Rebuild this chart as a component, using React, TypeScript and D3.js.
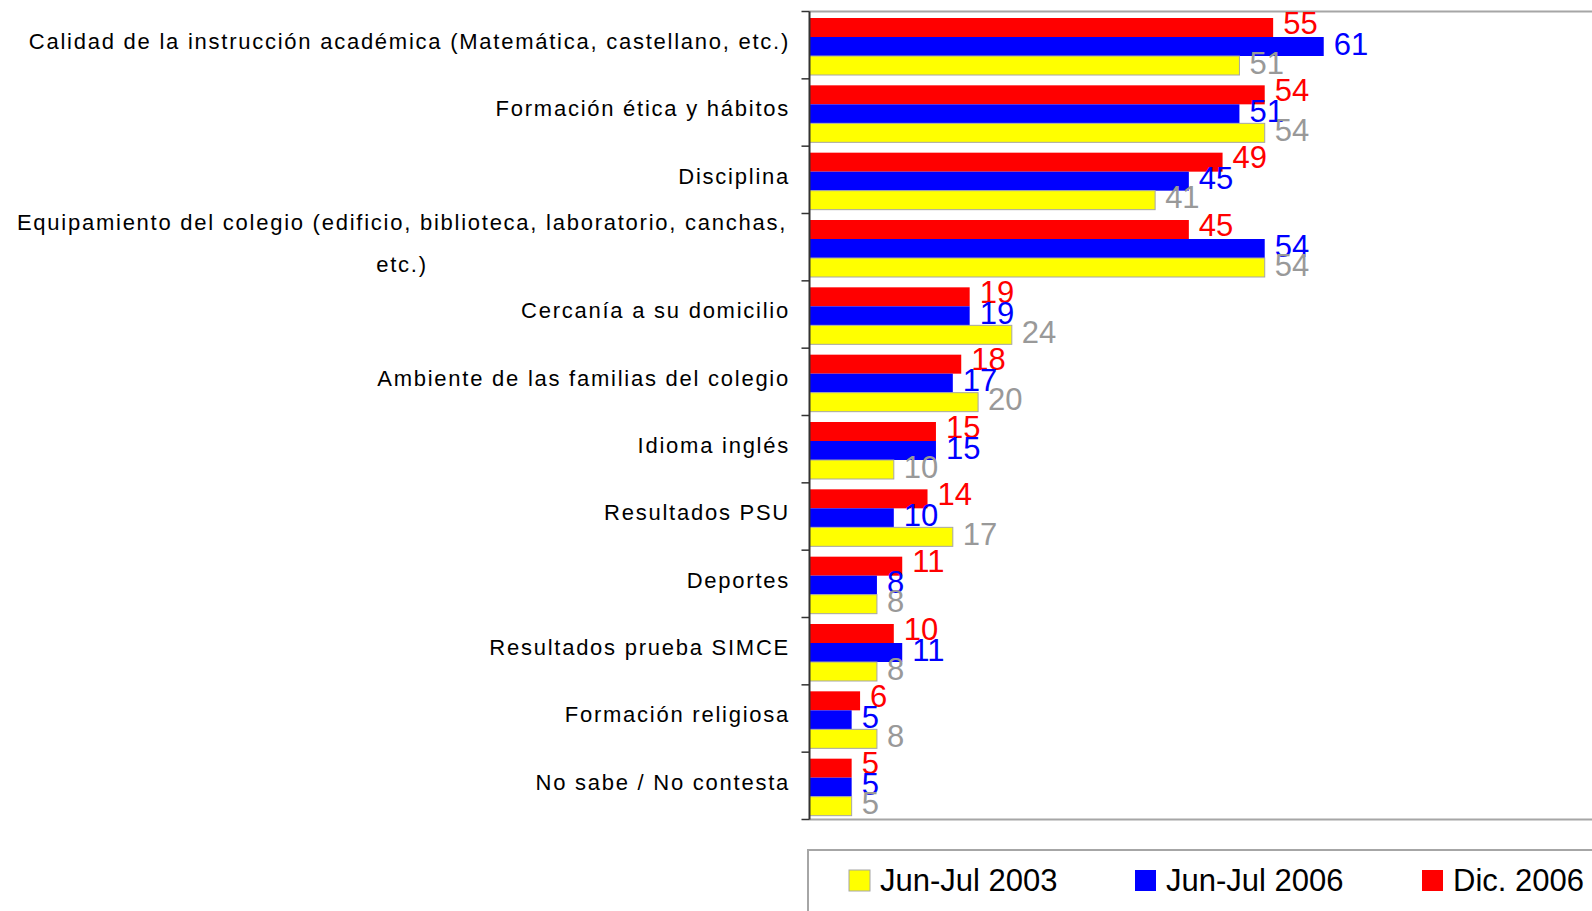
import React from 'react'
import * as d3 from 'd3'

const categories = [
  'Calidad de la instrucción académica (Matemática, castellano, etc.)',
  'Formación ética y hábitos',
  'Disciplina',
  'Equipamiento del colegio (edificio, biblioteca, laboratorio, canchas,|etc.)',
  'Cercanía a su domicilio',
  'Ambiente de las familias del colegio',
  'Idioma inglés',
  'Resultados PSU',
  'Deportes',
  'Resultados prueba SIMCE',
  'Formación religiosa',
  'No sabe / No contesta',
]

const dic2006 = [55, 54, 49, 45, 19, 18, 15, 14, 11, 10, 6, 5]
const junJul2006 = [61, 51, 45, 54, 19, 17, 15, 10, 8, 11, 5, 5]
const junJul2003 = [51, 54, 41, 54, 24, 20, 10, 17, 8, 8, 8, 5]

const seriesKeys = ['dic2006', 'jj2006', 'jj2003']
const seriesValues: Record<string, number[]> = {
  dic2006: dic2006,
  jj2006: junJul2006,
  jj2003: junJul2003,
}
const seriesFill: Record<string, string> = { dic2006: '#ff0000', jj2006: '#0000ff', jj2003: '#ffff00' }
const labelFill: Record<string, string> = { dic2006: '#ff0000', jj2006: '#0000ff', jj2003: '#999999' }

const legendItems = [
  { key: 'jj2003', label: 'Jun-Jul 2003' },
  { key: 'jj2006', label: 'Jun-Jul 2006' },
  { key: 'dic2006', label: 'Dic. 2006' },
]

const W = 1592
const H = 911
const axisX = 809.5
const plotTop = 11.5
const plotBottom = 819.5

export default function App() {
  const x = d3.scaleLinear().domain([0, 100]).range([axisX, axisX + 843])
  const y = d3.scaleBand<number>().domain(d3.range(categories.length)).range([plotTop, plotBottom])
  const inner = d3.scaleBand<string>().domain(seriesKeys).range([6.5, 63.5])

  const font = '"Liberation Sans", Arial, sans-serif'
  const legendX = [849, 1135, 1422]

  return (
    <svg width={W} height={H} style={{ position: 'absolute', left: 0, top: 0, background: '#fff' }}>
      {/* frame lines */}
      <line x1={axisX} x2={W} y1={plotTop} y2={plotTop} stroke="#a6a6a6" strokeWidth={2} />
      <line x1={axisX} x2={W} y1={plotBottom} y2={plotBottom} stroke="#a6a6a6" strokeWidth={2} />

      {/* bars */}
      {categories.map((c, i) => (
        <g key={c} transform={`translate(0,${y(i)})`}>
          {seriesKeys.map(k => {
            const v = seriesValues[k][i]
            const by = inner(k)!
            const bh = inner.bandwidth()
            const off = k === 'dic2006' ? -5 : -3
            return (
              <g key={k}>
                <rect
                  x={axisX}
                  y={by}
                  width={x(v) - axisX}
                  height={bh}
                  fill={seriesFill[k]}
                  stroke={k === 'jj2003' ? '#a6a6a6' : 'none'}
                  strokeWidth={1}
                />
                <text
                  x={x(v) + 10}
                  y={by + bh / 2 + off}
                  dy="0.36em"
                  fill={labelFill[k]}
                  fontFamily={font}
                  fontSize={31}
                >
                  {v}
                </text>
              </g>
            )
          })}
        </g>
      ))}

      {/* category axis */}
      <line x1={axisX} x2={axisX} y1={plotTop} y2={plotBottom} stroke="#333" strokeWidth={2} />
      {d3.range(categories.length + 1).map(i => {
        const ty = i < categories.length ? y(i)! : plotBottom
        return <line key={i} x1={axisX - 8} x2={axisX} y1={ty} y2={ty} stroke="#333" strokeWidth={1.5} />
      })}
      {categories.map((c, i) => {
        const lines = c.split('|')
        const cy = y(i)! + y.bandwidth() / 2 - 4
        if (lines.length === 1) {
          return (
            <text key={c} x={790} y={cy} dy="0.36em" textAnchor="end" fontFamily={font} fontSize={22} letterSpacing={1.75} fill="#000">
              {c}
            </text>
          )
        }
        return (
          <text key={c} fontFamily={font} fontSize={22} letterSpacing={1.75} fill="#000" textAnchor="middle">
            {lines.map((l, j) => (
              <tspan key={j} x={402} y={cy + (j - (lines.length - 1) / 2) * 42} dy="0.36em">
                {l}
              </tspan>
            ))}
          </text>
        )
      })}

      {/* legend */}
      <rect x={808} y={850} width={W} height={H} fill="none" stroke="#a6a6a6" strokeWidth={2} />
      {legendItems.map((it, i) => (
        <g key={it.key}>
          <rect
            x={legendX[i]}
            y={870}
            width={21}
            height={21}
            fill={seriesFill[it.key]}
            stroke={it.key === 'jj2003' ? '#a6a6a6' : 'none'}
          />
          <text x={legendX[i] + 31} y={891} fontFamily={font} fontSize={31} fill="#000">
            {it.label}
          </text>
        </g>
      ))}
    </svg>
  )
}
